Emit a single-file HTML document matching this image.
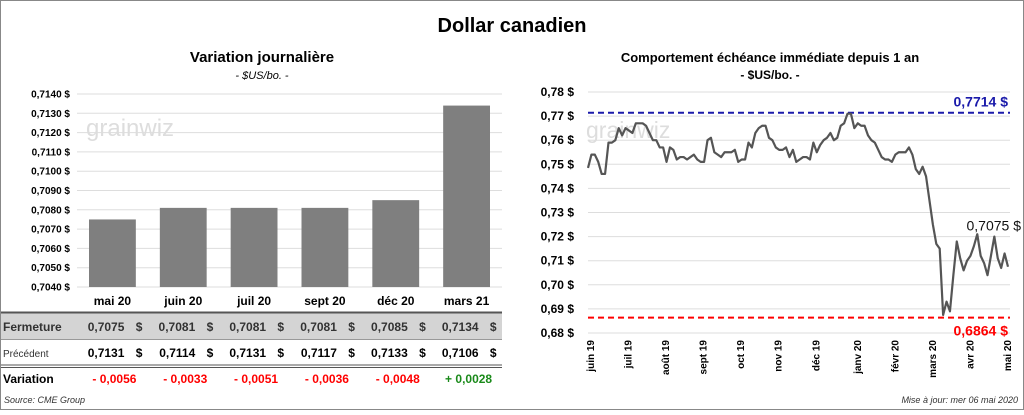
<!DOCTYPE html>
<html><head><meta charset="utf-8"><style>
body{margin:0;width:1024px;height:410px;background:#fff;font-family:"Liberation Sans",sans-serif;overflow:hidden}
svg text{font-family:"Liberation Sans",sans-serif}
</style></head><body>
<svg width="1024" height="410">
<rect x="0.5" y="0.5" width="1023" height="409" fill="#fff" stroke="#888"/>
<text x="512" y="32" text-anchor="middle" font-size="20" font-weight="bold">Dollar canadien</text>
<text x="262" y="62" text-anchor="middle" font-size="15" font-weight="bold">Variation  journalière</text>
<text x="262" y="79" text-anchor="middle" font-size="11" font-style="italic">- $US/bo. -</text>
<text x="770" y="62" text-anchor="middle" font-size="13" font-weight="bold">Comportement échéance immédiate depuis 1 an</text>
<text x="770" y="79" text-anchor="middle" font-size="12" font-weight="bold">- $US/bo. -</text>
<g id="left"></g>
<g id="tbl"></g>
<g id="right"></g>
<text x="4" y="403" font-size="9" font-style="italic" fill="#333">Source: CME Group</text>
<text x="1018" y="403" text-anchor="end" font-size="9" font-style="italic" fill="#333">Mise à jour: mer 06 mai 2020</text>
</svg>
<script>
const NS="http://www.w3.org/2000/svg";
const barCats=["mai 20","juin 20","juil 20","sept 20","déc 20","mars 21"];
const closeVals=[0.7075,0.7081,0.7081,0.7081,0.7085,0.7134];
const prevVals=[0.7131,0.7114,0.7131,0.7117,0.7133,0.7106];
const varVals=[-0.0056,-0.0033,-0.0051,-0.0036,-0.0048,0.0028];
const barTicks=[0.7040,0.7050,0.7060,0.7070,0.7080,0.7090,0.7100,0.7110,0.7120,0.7130,0.7140];
const lineVals=[0.7485,0.754,0.754,0.751,0.746,0.746,0.759,0.759,0.760,0.765,0.762,0.765,0.764,0.763,0.767,0.767,0.767,0.766,0.763,0.760,0.760,0.757,0.757,0.751,0.757,0.756,0.752,0.753,0.753,0.752,0.753,0.754,0.752,0.751,0.751,0.760,0.761,0.755,0.754,0.753,0.755,0.755,0.755,0.756,0.751,0.752,0.752,0.759,0.757,0.763,0.765,0.766,0.766,0.761,0.760,0.757,0.756,0.756,0.757,0.753,0.756,0.751,0.752,0.753,0.753,0.752,0.759,0.755,0.758,0.760,0.761,0.763,0.760,0.761,0.766,0.767,0.771,0.771,0.765,0.767,0.766,0.766,0.762,0.760,0.759,0.756,0.753,0.752,0.752,0.751,0.754,0.755,0.755,0.755,0.757,0.754,0.748,0.746,0.749,0.745,0.735,0.725,0.717,0.715,0.6875,0.693,0.689,0.704,0.718,0.711,0.706,0.710,0.712,0.716,0.721,0.712,0.709,0.704,0.712,0.720,0.711,0.707,0.713,0.7075];
const lineTicks=[0.68,0.69,0.70,0.71,0.72,0.73,0.74,0.75,0.76,0.77,0.78];
const monthLabels=["juin 19","juil 19","août 19","sept 19","oct 19","nov 19","déc 19","janv 20","févr 20","mars 20","avr 20","mai 20"];
const hiVal=0.7714, loVal=0.6864, lastVal=0.7075;
const fmt=(v,d)=>v.toFixed(d).replace('.',',');
function mk(p,t,a,txt){const e=document.createElementNS(NS,t);for(const k in a)e.setAttribute(k,a[k]);if(txt!=null)e.textContent=txt;p.appendChild(e);return e;}
// left bar chart
const L=document.getElementById('left');
const bx0=77,bx1=502,by=v=>287-(v-0.7040)/0.001*19.3;
const bw=(bx1-bx0)/barCats.length;
barTicks.forEach(t=>{
 const g=mk(L,'line',{x1:bx0,x2:bx1,y1:by(t),y2:by(t),stroke:'#ddd'});
 
 
 const l=mk(L,'text',{x:70,y:by(t)+3.5,'text-anchor':'end','font-size':'10','font-weight':'bold'},fmt(t,4)+' $');
 
 
});
mk(L,'text',{x:86,y:136,'font-size':'24',fill:'#ddd'},'grainwiz');
closeVals.forEach((v,i)=>{
 const b=mk(L,'rect',{x:bx0+i*bw+12,y:by(v),width:bw-24,height:287-by(v),fill:'#7f7f7f'});
 
 
});
// table
const T=document.getElementById('tbl');
mk(T,'rect',{x:1,y:313,width:501,height:26,fill:'#d4d4d4'});
mk(T,'line',{x1:1,x2:502,y1:312.5,y2:312.5,stroke:'#555',"stroke-width":2});
mk(T,'line',{x1:1,x2:502,y1:339.5,y2:339.5,stroke:'#999'});
mk(T,'line',{x1:1,x2:502,y1:365,y2:365,stroke:'#555'});
mk(T,'line',{x1:1,x2:502,y1:367.5,y2:367.5,stroke:'#555'});
mk(T,'text',{x:3,y:331,'font-size':'12','font-weight':'bold',fill:'#333'},'Fermeture');
mk(T,'text',{x:3,y:357,'font-size':'10',fill:'#333'},'Précédent');
mk(T,'text',{x:3,y:383,'font-size':'12','font-weight':'bold'},'Variation');
barCats.forEach((c,i)=>{
 const cx=bx0+(i+0.5)*bw;
 const h=mk(T,'text',{x:cx,y:305,'text-anchor':'middle','font-size':'12','font-weight':'bold'},c);
 
 
 mk(T,'text',{x:cx+12,y:331,'text-anchor':'end','font-size':'12','font-weight':'bold',fill:'#333'},fmt(closeVals[i],4));
 mk(T,'text',{x:cx+30,y:331,'text-anchor':'end','font-size':'12','font-weight':'bold',fill:'#333'},'$');
 mk(T,'text',{x:cx+12,y:357,'text-anchor':'end','font-size':'12','font-weight':'bold'},fmt(prevVals[i],4));
 mk(T,'text',{x:cx+30,y:357,'text-anchor':'end','font-size':'12','font-weight':'bold'},'$');
 const d=varVals[i];
 mk(T,'text',{x:cx+2,y:383,'text-anchor':'middle','font-size':'12','font-weight':'bold',fill:d<0?'#f00':'#1a8a1a'},(d<0?'- ':'+ ')+fmt(Math.abs(d),4));
});
// right line chart
const R=document.getElementById('right');
const rx0=588,rx1=1010,ry=v=>333-(v-0.68)/0.01*24.1;
lineTicks.forEach(t=>{
 const g=mk(R,'line',{x1:rx0,x2:rx1,y1:ry(t),y2:ry(t),stroke:'#ddd'});
 
 
 const l=mk(R,'text',{x:574,y:ry(t)+4,'text-anchor':'end','font-size':'12','font-weight':'bold'},fmt(t,2)+' $');
 
 
});
mk(R,'text',{x:586,y:138,'font-size':'23',fill:'#ddd'},'grainwiz');
const lx0=590,lx1=1003;
monthLabels.forEach((m,i)=>{
 const x=lx0+i*(lx1-lx0)/(monthLabels.length-1)+(i>=7?4:0);
 const l=mk(R,'text',{x:x+4,y:340,'text-anchor':'end','font-size':'10','font-weight':'bold',transform:`rotate(-90 ${x+4} 340)`},m);
 
 
});
const hi=mk(R,'line',{x1:rx0,x2:rx1,y1:ry(hiVal),y2:ry(hiVal),stroke:'#1a1aaa','stroke-width':2,'stroke-dasharray':'6 4'});


const lo=mk(R,'line',{x1:rx0,x2:rx1,y1:ry(loVal),y2:ry(loVal),stroke:'#f00','stroke-width':2,'stroke-dasharray':'6 4'});


mk(R,'text',{x:1008,y:ry(hiVal)-6,'text-anchor':'end','font-size':'14','font-weight':'bold',fill:'#1a1aaa'},fmt(hiVal,4)+' $');
mk(R,'text',{x:1008,y:ry(loVal)+18,'text-anchor':'end','font-size':'14','font-weight':'bold',fill:'#f00'},fmt(loVal,4)+' $');
const n=lineVals.length;
const pts=lineVals.map((v,i)=>[lx0-2+i*(1008-lx0+2)/(n-1),ry(v)]);
const p=mk(R,'polyline',{points:pts.map(q=>q.join(',')).join(' '),fill:'none',stroke:'#555','stroke-width':2.2,'stroke-linejoin':'round'});


mk(R,'text',{x:1021,y:ry(0.7225),'text-anchor':'end','font-size':'14',fill:'#111'},fmt(lastVal,4)+' $');
</script>
</body></html>
